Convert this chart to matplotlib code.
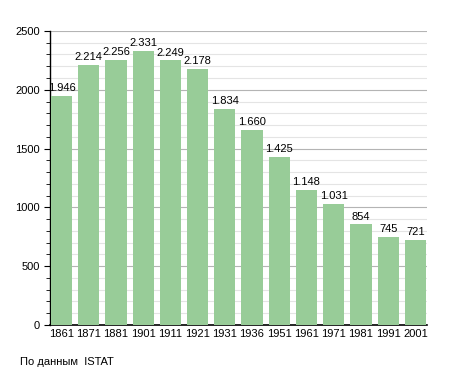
import matplotlib
matplotlib.use('Agg')
import matplotlib.pyplot as plt
from matplotlib.ticker import MultipleLocator

years = ['1861', '1871', '1881', '1901', '1911', '1921', '1931',
         '1936', '1951', '1961', '1971', '1981', '1991', '2001']
population = [1946, 2214, 2256, 2331, 2249, 2178, 1834,
              1660, 1425, 1148, 1031, 854, 745, 721]


def fmt(v):
    return f'{v:,}'.replace(',', '.')


def main():
    plt.rcParams['font.family'] = ['Liberation Sans', 'DejaVu Sans']
    fig = plt.figure(figsize=(4.55, 3.73), dpi=100)
    ax = fig.add_axes([0.11, 0.129, 0.828, 0.788])

    x = range(len(years))
    ax.bar(x, population, width=0.78, color='#98cc98', zorder=3)
    for i, v in enumerate(population):
        ax.text(i, v + 25, fmt(v), ha='center', va='bottom', fontsize=8, zorder=4)

    ax.set_xlim(-0.42, len(years) - 0.58)
    ax.set_ylim(0, 2500)
    ax.set_xticks(list(x))
    ax.set_xticklabels(years, fontsize=8)
    ax.yaxis.set_major_locator(MultipleLocator(500))
    ax.yaxis.set_minor_locator(MultipleLocator(100))
    ax.tick_params(axis='y', labelsize=8, length=4, width=0.8)
    ax.tick_params(axis='y', which='minor', length=3, width=0.6)
    ax.tick_params(axis='x', length=0, pad=3)

    ax.grid(axis='y', which='major', color='#b4b4b4', linewidth=0.8, zorder=0)
    ax.grid(axis='y', which='minor', color='#e4e4e4', linewidth=0.8, zorder=0)
    for s in ['top', 'right']:
        ax.spines[s].set_visible(False)
    ax.spines['left'].set_linewidth(1.0)
    ax.spines['bottom'].set_linewidth(1.2)

    fig.text(20 / 455, 1 - 362 / 373, 'По данным  ISTAT', fontsize=8, va='center')
    fig.savefig('out.png', dpi=100)


if __name__ == "__main__":
    main()
